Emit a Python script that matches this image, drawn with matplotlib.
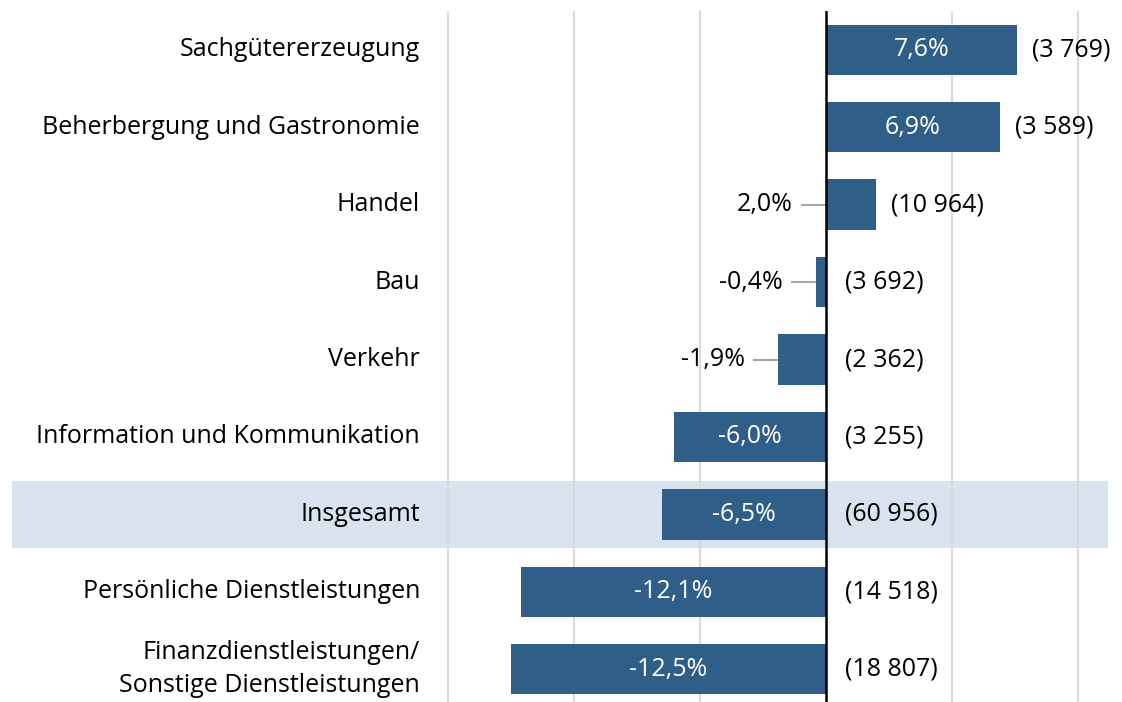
import matplotlib.pyplot as plt
from matplotlib.patches import Rectangle
import matplotlib.transforms as mtransforms

plt.rcParams['font.family'] = ['Open Sans', 'DejaVu Sans']

# ==================== Daten ====================
categories = ['Sachgütererzeugung', 'Beherbergung und Gastronomie', 'Handel', 'Bau',
              'Verkehr', 'Information und Kommunikation', 'Insgesamt',
              'Persönliche Dienstleistungen',
              'Finanzdienstleistungen/\nSonstige Dienstleistungen']
changes = [7.6, 6.9, 2.0, -0.4, -1.9, -6.0, -6.5, -12.1, -12.5]
counts = ['(3 769)', '(3 589)', '(10 964)', '(3 692)', '(2 362)', '(3 255)',
          '(60 956)', '(14 518)', '(18 807)']
highlight = 'Insgesamt'
# ===============================================

bar_color = '#2F5E88'
band_color = '#D9E3EF'
W, H = 1122, 702
FS = 18

fig = plt.figure(figsize=(W / 100, H / 100), dpi=100)
# Zeilen: erste Mitte bei y=48 px, Abstand ~77.4 px
ax = fig.add_axes([435 / W, -6 / H, (1108 - 435) / W, (708 - 11) / H])

n = len(categories)
ypos = list(range(n))
ax.set_xlim(-15.5, 11.2)
ax.set_ylim(n - 0.5, -0.5)

for s in ax.spines.values():
    s.set_visible(False)
ax.set_xticks([-15, -10, -5, 5, 10])
ax.set_xticklabels([])
ax.tick_params(length=0)
ax.set_yticks([])
ax.grid(axis='x', color='#D9D9D9', linewidth=1.5)
ax.set_axisbelow(True)

# Band für Insgesamt, reicht bis in den Beschriftungsbereich
trans = mtransforms.blended_transform_factory(fig.transFigure, ax.transData)
for i, cat in enumerate(categories):
    if cat == highlight:
        ax.add_patch(Rectangle((12 / W, i - 0.43), (1108 - 12) / W, 0.86,
                               transform=trans, facecolor=band_color,
                               edgecolor='none', zorder=0, clip_on=False))

ax.barh(ypos, changes, height=0.65, color=bar_color, zorder=2)
ax.axvline(0, color='black', linewidth=1.8, zorder=3)

for i, (cat, v, c) in enumerate(zip(categories, changes, counts)):
    ax.text(-16.1, i, cat, ha='right', va='center', fontsize=FS,
            linespacing=1.4, clip_on=False)
    lbl = f'{v:.1f}%'.replace('.', ',')
    if abs(v) >= 5:
        ax.text(v / 2, i, lbl, ha='center', va='center', fontsize=FS,
                color='white', zorder=4)
    else:
        start = min(v, 0)
        ax.plot([start, start - 0.95], [i, i], color='#A6A6A6',
                linewidth=1.5, zorder=1)
        ax.text(start - 1.3, i, lbl, ha='right', va='center', fontsize=FS)
    xc = v + 0.6 if v > 0 else 0.75
    ax.text(xc, i, c, ha='left', va='center', fontsize=FS)

fig.savefig('out.png', dpi=100)
